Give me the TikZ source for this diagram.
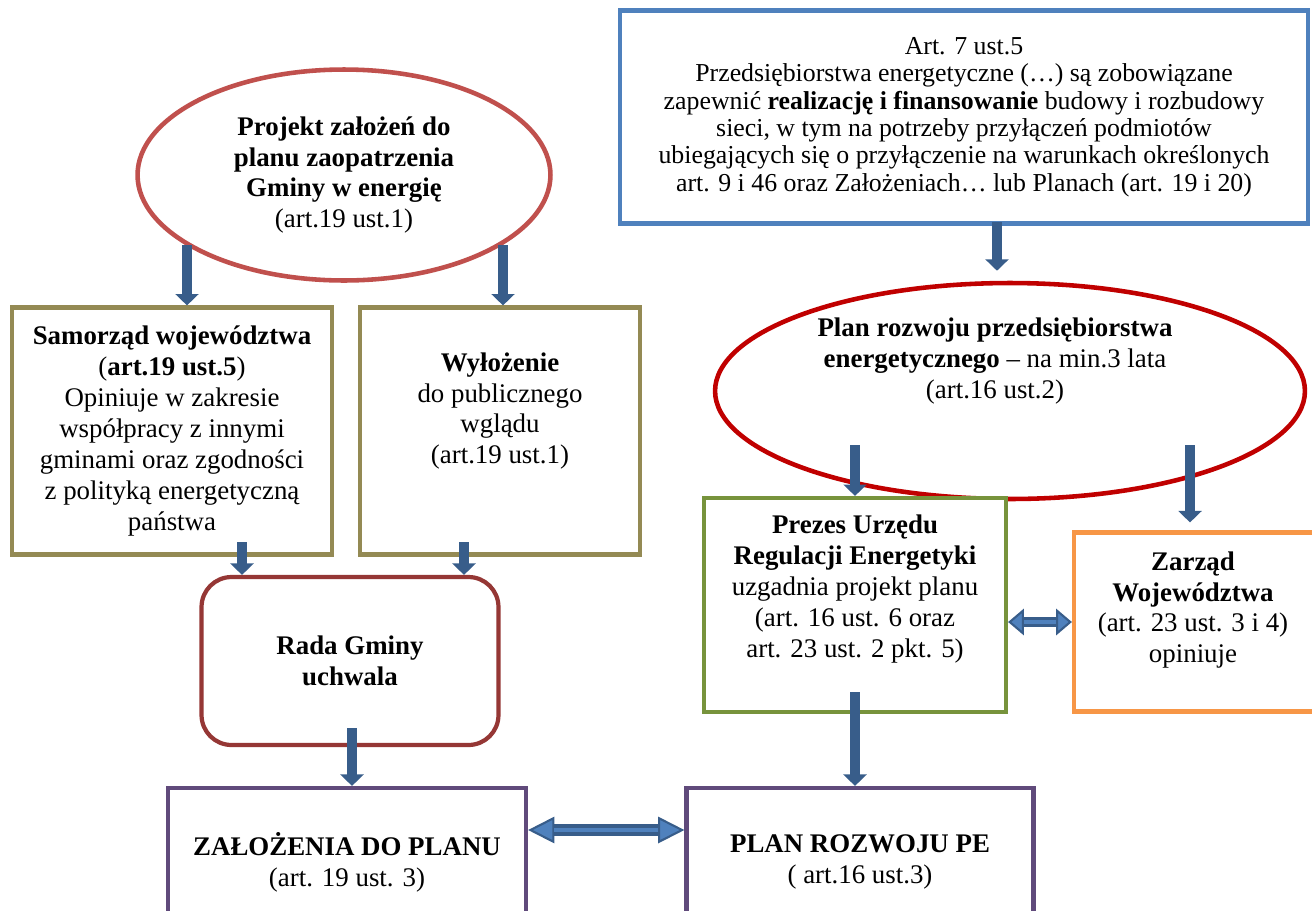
\documentclass[tikz,border=0pt]{standalone}
\usepackage{fontspec}
\setmainfont{Liberation Serif}
\usetikzlibrary{shapes.geometric,arrows.meta}

\definecolor{artblue}{HTML}{4F81BD}
\definecolor{arrdark}{HTML}{385D8A}
\definecolor{ovalred}{HTML}{C0504D}
\definecolor{planred}{HTML}{C00000}
\definecolor{olivebox}{HTML}{948A54}
\definecolor{radared}{HTML}{953735}
\definecolor{purpbox}{HTML}{604A7B}
\definecolor{greenbox}{HTML}{77933C}
\definecolor{orangebox}{HTML}{F79646}

\tikzset{
	box/.style={draw, line width=2.4pt, fill=white, inner sep=0pt, align=center,
		font=\fontsize{15.3}{17.6}\selectfont},
	oval/.style={ellipse, draw, line width=2.6pt, fill=white, inner sep=0pt, align=center,
		font=\fontsize{15.3}{17.6}\selectfont},
	txt/.style={inner sep=0pt, align=center, font=\fontsize{15.3}{17.6}\selectfont},
	down/.style={draw=arrdark, line width=5.7pt, -{Triangle[length=6.5pt,width=13pt]}},
	both/.style={draw=arrdark, line width=7pt,
		{Triangle[length=#1,width=15pt,line width=1.2pt,fill=artblue]}-{Triangle[length=#1,width=15pt,line width=1.2pt,fill=artblue]}},
	both/.default=15pt,
	bothin/.style={draw=artblue, line width=2.4pt, shorten <=#1, shorten >=#1},
	bothin/.default=15pt
}

\begin{document}
\begin{tikzpicture}[x=0.02cm,y=-0.02cm]
	\useasboundingbox (0,0) rectangle (1312,910);
	\clip (0,0) rectangle (1312,910);
	
	% left side: gmina
	\node[oval, draw=ovalred, minimum width=8.26cm, minimum height=4.22cm] (proj) at (344,175)
		{\textbf{Projekt założeń do}\\ \textbf{planu zaopatrzenia}\\ \textbf{Gminy w energię}\\ (art.19 ust.1)};
	
	\node[box, draw=olivebox, minimum width=6.4cm, minimum height=4.94cm] (sam) at (172,431)
		{\textbf{Samorząd województwa}\\ (\textbf{art.19 ust.5})\\ Opiniuje w zakresie\\ współpracy z innymi\\
		 gminami oraz zgodności\\ z polityką energetyczną\\ państwa};
	
	\node[box, draw=olivebox, minimum width=5.6cm, minimum height=4.94cm] (wyl) at (500,431) {};
	\node[txt] (wylT) at (500,411) {\textbf{Wyłożenie}\\ do publicznego\\ wglądu\\ (art.19 ust.1)};
	
	\node[box, draw=radared, rounded corners=0.6cm, minimum width=5.94cm, minimum height=3.36cm] (rada) at (350,661)
		{\textbf{Rada Gminy}\\ \textbf{uchwala}};
	
	\node[box, draw=purpbox, minimum width=7.16cm, minimum height=2.96cm] (zal) at (347,862)
		{\textbf{ZAŁOŻENIA DO PLANU}\\ (art. 19 ust. 3)};
	
	% right side: przedsiebiorstwo
	\node[box, draw=artblue, minimum width=13.76cm, minimum height=4.26cm,
		font=\fontsize{14.7}{15.6}\selectfont] (art) at (964,117)
		{Art. 7 ust.5\\ Przedsiębiorstwa energetyczne (…) są zobowiązane\\
		 zapewnić \textbf{realizację i finansowanie} budowy i rozbudowy\\
		 sieci, w tym na potrzeby przyłączeń podmiotów\\
		 ubiegających się o przyłączenie na warunkach określonych\\
		 art. 9 i 46 oraz Założeniach… lub Planach (art. 19 i 20)};
	
	\node[oval, draw=planred, minimum width=11.8cm, minimum height=4.32cm] (plan) at (1010,391) {};
	\node[txt] (planT) at (995,361) {\textbf{Plan rozwoju przedsiębiorstwa}\\
		\textbf{energetycznego} – na min.3 lata\\ (art.16 ust.2)};
	
	\node[box, draw=greenbox, minimum width=6.04cm, minimum height=4.28cm] (prez) at (855,605) {};
	\node[txt] (prezT) at (855,589) {\textbf{Prezes Urzędu}\\ \textbf{Regulacji Energetyki}\\
		uzgadnia projekt planu\\ (art. 16 ust. 6 oraz\\ art. 23 ust. 2 pkt. 5)};
	
	\node[box, draw=orangebox, minimum width=4.8cm, minimum height=3.58cm] (zarz) at (1194,622) {};
	\node[txt] (zarzT) at (1193,610) {\textbf{Zarząd}\\ \textbf{Województwa}\\ (art. 23 ust. 3 i 4)\\ opiniuje};
	
	\node[box, draw=purpbox, minimum width=6.94cm, minimum height=2.96cm] (pe) at (860,862)
		{\textbf{PLAN ROZWOJU PE}\\ ( art.16 ust.3)};
	
	% arrow starts
	\coordinate (s1) at (187,245);
	\coordinate (s2) at (503,245);
	\coordinate (s3) at (242,542);
	\coordinate (s4) at (464,542);
	\coordinate (s5) at (352,728);
	\coordinate (s6) at (997,222);
	\coordinate (s7) at (855,445);
	\coordinate (s8) at (1190,445);
	\coordinate (s9) at (855,692);
	
	\draw[down] (s1) -- (s1 |- sam.north);
	\draw[down] (s2) -- (s2 |- wyl.north);
	\draw[down] (s3) -- (s3 |- rada.north);
	\draw[down] (s4) -- (s4 |- rada.north);
	\draw[down] (s5) -- (s5 |- zal.north);
	\draw[down] (s6) -- ([yshift=0.2cm]s6 |- plan.north);
	\draw[down] (s7) -- (s7 |- prez.north);
	\draw[down] (s8) -- ([yshift=0.16cm]s8 |- zarz.north);
	\draw[down] (s9) -- (s9 |- pe.north);
	
	\draw[both] ([yshift=0.64cm]zal.east) -- ([yshift=0.64cm]pe.west);
	\draw[bothin] ([yshift=0.64cm]zal.east) -- ([yshift=0.64cm]pe.west);
	\draw[both=9pt, line width=5.5pt] (prez.east |- zarz.west) -- (zarz.west);
	\draw[bothin=9pt] (prez.east |- zarz.west) -- (zarz.west);
\end{tikzpicture}
\end{document}
